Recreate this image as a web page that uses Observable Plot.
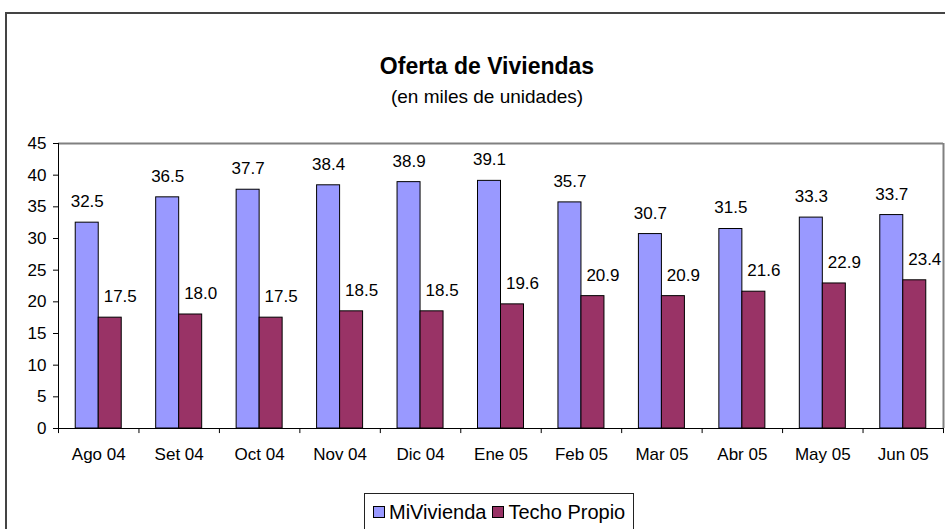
<!DOCTYPE html>
<html><head><meta charset="utf-8">
<script src="https://cdn.jsdelivr.net/npm/d3@7"></script>
<script src="https://cdn.jsdelivr.net/npm/@observablehq/plot@0.6"></script>
<style>
body{margin:0;background:#fff;overflow:hidden;font-family:"Liberation Sans",Arial,sans-serif;color:#000;}
#root{position:relative;width:945px;height:529px;overflow:hidden;background:#fff;}
#chart{position:absolute;left:0;top:0;}
#border{position:absolute;left:5px;top:12px;width:1000px;height:600px;border-left:2px solid #444;border-top:2px solid #444;pointer-events:none;}
#title{position:absolute;left:0;width:974px;top:55px;text-align:center;font-weight:bold;font-size:23px;line-height:23px;}
#subtitle{position:absolute;left:0;width:974px;top:87px;text-align:center;font-size:19px;line-height:19px;}
#legend{position:absolute;left:364px;top:493px;width:270px;height:60px;border:1px solid #222;box-sizing:border-box;}
#legend .row{position:absolute;left:8px;top:8px;display:flex;align-items:center;font-size:20px;line-height:20px;white-space:nowrap;}
#legend .sw{width:10px;height:10px;border:1px solid #000;margin-right:4px;}
#legend .item{display:flex;align-items:center;margin-right:6px;}
</style></head><body>
<div id="root">
  <div id="chart"></div>
  <div id="border"></div>
  <div id="title">Oferta de Viviendas</div>
  <div id="subtitle">(en miles de unidades)</div>
  <div id="legend"><div class="row" id="legendRow"></div></div>
</div>
<script>
const months = ["Ago 04","Set 04","Oct 04","Nov 04","Dic 04","Ene 05","Feb 05","Mar 05","Abr 05","May 05","Jun 05"];
const miVivienda = [32.5,36.5,37.7,38.4,38.9,39.1,35.7,30.7,31.5,33.3,33.7];
const techoPropio = [17.5,18.0,17.5,18.5,18.5,19.6,20.9,20.9,21.6,22.9,23.4];
const yTicks = [0,5,10,15,20,25,30,35,40,45];
const series = ["MiVivienda","Techo Propio"];
const colors = ["#9999FF","#993366"];

const W = 945, H = 529, mL = 58, mR = 2, mT = 143, mB = 101;
const bw = (W - mL - mR) / months.length;
const barW = 23;
const last = months[months.length - 1];

const data = months.flatMap((m, i) => [
  {month: m, series: series[0], value: miVivienda[i]},
  {month: m, series: series[1], value: techoPropio[i]}
]);
const s0 = data.filter(d => d.series === series[0]);
const s1 = data.filter(d => d.series === series[1]);

const chart = Plot.plot({
  width: W, height: H,
  marginLeft: mL, marginRight: mR, marginTop: mT, marginBottom: mB,
  style: {fontFamily: '"Liberation Sans", Arial, sans-serif', fontSize: "17px", color: "#000", background: "transparent"},
  x: {domain: months, padding: 0, round: false},
  y: {domain: [0, 45]},
  color: {domain: series, range: colors},
  marks: [
    Plot.ruleY([45], {stroke: "#808080", strokeWidth: 2}),
    Plot.ruleX([last], {x: d => d, dx: bw / 2, y1: 0, y2: 45, stroke: "#808080", strokeWidth: 2}),
    Plot.barY(s0, {x: "month", y: "value", fill: "series", stroke: "#000", strokeWidth: 1, insetLeft: bw / 2 - barW, insetRight: bw / 2}),
    Plot.barY(s1, {x: "month", y: "value", fill: "series", stroke: "#000", strokeWidth: 1, insetLeft: bw / 2, insetRight: bw / 2 - barW}),
    Plot.ruleY([0], {stroke: "#000"}),
    Plot.ruleX([months[0]], {x: d => d, dx: -bw / 2, y1: 0, y2: 45, stroke: "#000"}),
    Plot.ruleX(months, {x: d => d, dx: -bw / 2, y1: 0, y2: -0.8, stroke: "#000"}),
    Plot.ruleX([last], {x: d => d, dx: bw / 2, y1: 0, y2: -0.8, stroke: "#000"}),
    Plot.axisY({ticks: yTicks, tickSize: 5, tickPadding: 7, label: null}),
    Plot.axisX({tickSize: 0, tickPadding: 19, label: null}),
    Plot.text(s0, {x: "month", y: "value", text: d => d.value.toFixed(1), dx: -11.5, dy: -21}),
    Plot.text(s1, {x: "month", y: "value", text: d => d.value.toFixed(1), dx: 21.5, dy: -21})
  ]
});
document.getElementById("chart").appendChild(chart);

const row = document.getElementById("legendRow");
series.forEach((s, i) => {
  const item = document.createElement("div");
  item.className = "item";
  const sw = document.createElement("div");
  sw.className = "sw";
  sw.style.background = colors[i];
  const t = document.createElement("span");
  t.textContent = s;
  item.appendChild(sw);
  item.appendChild(t);
  row.appendChild(item);
});
</script>
</body></html>
